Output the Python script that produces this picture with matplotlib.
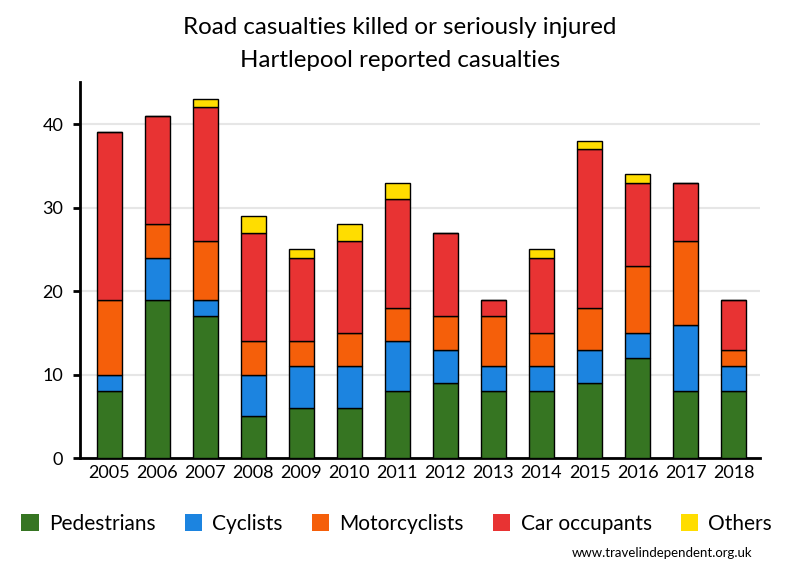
import matplotlib.pyplot as plt
from matplotlib.patches import Patch

years = ['2005', '2006', '2007', '2008', '2009', '2010', '2011',
         '2012', '2013', '2014', '2015', '2016', '2017', '2018']
pedestrians = [8, 19, 17, 5, 6, 6, 8, 9, 8, 8, 9, 12, 8, 8]
cyclists = [2, 5, 2, 5, 5, 5, 6, 4, 3, 3, 4, 3, 8, 3]
motorcyclists = [9, 4, 7, 4, 3, 4, 4, 4, 6, 4, 5, 8, 10, 2]
car_occupants = [20, 13, 16, 13, 10, 11, 13, 10, 2, 9, 19, 10, 7, 6]
others = [0, 0, 1, 2, 1, 2, 2, 0, 0, 1, 1, 1, 0, 0]

series = [('Pedestrians', pedestrians, '#367522'),
          ('Cyclists', cyclists, '#1c84e0'),
          ('Motorcyclists', motorcyclists, '#f55f0a'),
          ('Car occupants', car_occupants, '#e83333'),
          ('Others', others, '#ffdd00')]

plt.rcParams['font.family'] = ['Lato', 'DejaVu Sans']

fig = plt.figure(figsize=(8, 5.8), dpi=100)
ax = fig.add_axes([0.1, 0.21, 0.85, 0.648])

x = list(range(len(years)))
bottom = [0] * len(years)
for name, vals, col in series:
    ax.bar(x, vals, 0.52, bottom=bottom, color=col, edgecolor='black',
           linewidth=1, zorder=3)
    bottom = [b + v for b, v in zip(bottom, vals)]

ax.set_xlim(-0.61, 13.55)
ax.set_ylim(0, 45)
ax.set_yticks([0, 10, 20, 30, 40])
ax.set_xticks(x)
ax.set_xticklabels(years)
ax.yaxis.grid(True, color='#e6e6e6', linewidth=1.5, zorder=0)
ax.tick_params(axis='x', length=0, labelsize=13, pad=5)
ax.tick_params(axis='y', length=5, width=2, labelsize=13, pad=7)
for s in ['top', 'right']:
    ax.spines[s].set_visible(False)
for s in ['left', 'bottom']:
    ax.spines[s].set_linewidth(2)

fig.text(0.5, 0.952, 'Road casualties killed or seriously injured',
         ha='center', va='center', fontsize=17.4)
fig.text(0.5, 0.895, 'Hartlepool reported casualties',
         ha='center', va='center', fontsize=17.4)

handles = [Patch(facecolor=c, edgecolor='none') for _, _, c in series]
fig.legend(handles, [n for n, _, _ in series], loc='center',
           bbox_to_anchor=(0.496, 0.097), ncol=5, frameon=False,
           fontsize=15, handlelength=0.82, handleheight=0.82,
           handletextpad=0.5, columnspacing=1.4)

fig.text(0.94, 0.046, 'www.travelindependent.org.uk', ha='right',
         va='center', fontsize=9.5)

fig.savefig('out.png', dpi=100)
